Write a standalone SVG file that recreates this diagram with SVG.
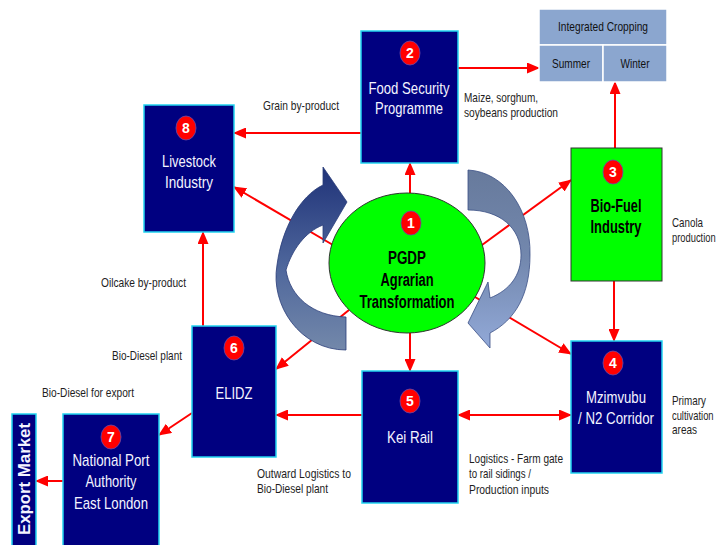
<svg xmlns="http://www.w3.org/2000/svg" width="720" height="545" viewBox="0 0 720 545">
<style>
.nav{fill:#000080;stroke:#22d3f0;stroke-width:1.5}
.grn{fill:#00ff00;stroke:#333;stroke-width:1}
.bdg{fill:#ff0000;stroke:#6a4aa8;stroke-width:0.8}
.bt{font-family:'Liberation Sans',Arial,sans-serif;font-weight:bold;font-size:14px;fill:#fff;text-anchor:middle}
.nt{font-family:'Liberation Sans Narrow','Liberation Sans',Arial,sans-serif;font-size:17px;fill:#f4f4ff;text-anchor:middle}
.gt{font-family:'Liberation Sans Narrow','Liberation Sans',Arial,sans-serif;font-size:17.5px;font-weight:bold;fill:#000;text-anchor:middle}
.lb{font-family:'Liberation Sans Narrow','Liberation Sans',Arial,sans-serif;font-size:13px;fill:#1e1e1e}
.ic{fill:#8ba6cf;stroke:#fff;stroke-width:1.5}
.it{font-family:'Liberation Sans Narrow','Liberation Sans',Arial,sans-serif;font-size:13px;fill:#111;text-anchor:middle}
.cn{stroke:#ff0000;stroke-width:2;fill:none;marker-end:url(#ah)}
</style>
<defs>
<marker id="ah" markerUnits="userSpaceOnUse" markerWidth="13" markerHeight="11" refX="12" refY="5.5" orient="auto-start-reverse">
<path d="M0,0 L13,5.5 L0,11 Z" fill="#ff0000"/>
</marker>
<linearGradient id="gl" x1="0" y1="0" x2="0" y2="1">
<stop offset="0" stop-color="#1f3278"/>
<stop offset="0.55" stop-color="#4f679c"/>
<stop offset="1" stop-color="#7388aa"/>
</linearGradient>
<linearGradient id="gr" x1="0" y1="0" x2="0" y2="1">
<stop offset="0" stop-color="#677a9c"/>
<stop offset="0.5" stop-color="#7388ae"/>
<stop offset="1" stop-color="#92a9d8"/>
</linearGradient>
</defs>
<rect width="720" height="545" fill="#fff"/>

<g id="connectors">
<path class="cn" d="M410,193 L410,163"/>
<path class="cn" d="M458,68 L539,68"/>
<path class="cn" d="M615,148 L615,82"/>
<path class="cn" d="M361,133 L234,133"/>
<path class="cn" d="M333,245 L234,187"/>
<path class="cn" d="M482,245 L571,180"/>
<path class="cn" d="M470,294 L571,354"/>
<path class="cn" d="M614,281 L614,341"/>
<path class="cn" d="M410,333 L410,371"/>
<path class="cn" d="M458,415 L571,415" style="marker-start:url(#ah)"/>
<path class="cn" d="M362,415 L276,415"/>
<path class="cn" d="M349,310 L276,369"/>
<path class="cn" d="M203,326 L203,232"/>
<path class="cn" d="M192,413 L159,435"/>
<path class="cn" d="M63,481 L36,481"/>
</g>

<g id="cycle-arrows">
<path d="M346,350 C300,350 270,305 277,265 C282,228 300,196 323,185 L323,167 L347,202 L323,243 L323,225 C305,232 292,250 286,270 C290,296 312,316 346,317 Z" fill="url(#gl)" stroke="#2a3c78" stroke-width="0.8"/>
<path d="M468,170 C505,172 531,210 530,255 C530,295 515,320 490,333 L490,348 L468,323 L488,282 L490,298 C510,290 521,275 521,255 C521,228 500,210 468,210 Z" fill="url(#gr)" stroke="#3a4f85" stroke-width="0.8"/>
</g>

<g id="integrated-cropping">
<rect class="ic" x="539" y="9" width="128" height="36"/>
<rect class="ic" x="539" y="45" width="64" height="37"/>
<rect class="ic" x="603" y="45" width="64" height="37"/>
<text class="it" x="603" y="31" textLength="90" lengthAdjust="spacingAndGlyphs">Integrated Cropping</text>
<text class="it" x="571" y="68" textLength="38" lengthAdjust="spacingAndGlyphs">Summer</text>
<text class="it" x="635" y="68" textLength="29" lengthAdjust="spacingAndGlyphs">Winter</text>
</g>

<g id="node1">
<ellipse cx="407" cy="263" rx="78" ry="70" fill="#00ff00" stroke="#333" stroke-width="1"/>
<ellipse class="bdg" cx="411" cy="223" rx="10" ry="12"/>
<text class="bt" x="411" y="228">1</text>
<text class="gt" x="407" y="264" textLength="38" lengthAdjust="spacingAndGlyphs">PGDP</text>
<text class="gt" x="407" y="286" textLength="53" lengthAdjust="spacingAndGlyphs">Agrarian</text>
<text class="gt" x="407" y="308" textLength="95" lengthAdjust="spacingAndGlyphs">Transformation</text>
</g>

<g id="node2">
<rect class="nav" x="361" y="31" width="97" height="132"/>
<ellipse class="bdg" cx="410" cy="53" rx="10" ry="12"/>
<text class="bt" x="410" y="58">2</text>
<text class="nt" x="409" y="94" textLength="81" lengthAdjust="spacingAndGlyphs">Food Security</text>
<text class="nt" x="409" y="114" textLength="68" lengthAdjust="spacingAndGlyphs">Programme</text>
</g>

<g id="node3">
<rect class="grn" x="571" y="148" width="91" height="133"/>
<ellipse class="bdg" cx="613" cy="172" rx="10" ry="12"/>
<text class="bt" x="613" y="177">3</text>
<text class="gt" x="616" y="212" textLength="51" lengthAdjust="spacingAndGlyphs">Bio-Fuel</text>
<text class="gt" x="616" y="233" textLength="51" lengthAdjust="spacingAndGlyphs">Industry</text>
</g>

<g id="node4">
<rect class="nav" x="571" y="341" width="91" height="132"/>
<ellipse class="bdg" cx="613" cy="363" rx="10" ry="12"/>
<text class="bt" x="613" y="368">4</text>
<text class="nt" x="616" y="403" textLength="60" lengthAdjust="spacingAndGlyphs">Mzimvubu</text>
<text class="nt" x="616" y="424" textLength="76" lengthAdjust="spacingAndGlyphs">/ N2 Corridor</text>
</g>

<g id="node5">
<rect class="nav" x="362" y="371" width="96" height="132"/>
<ellipse class="bdg" cx="410" cy="401" rx="10" ry="12"/>
<text class="bt" x="410" y="406">5</text>
<text class="nt" x="410" y="443" textLength="46" lengthAdjust="spacingAndGlyphs">Kei Rail</text>
</g>

<g id="node6">
<rect class="nav" x="192" y="326" width="84" height="131"/>
<ellipse class="bdg" cx="234" cy="348" rx="10" ry="12"/>
<text class="bt" x="234" y="353">6</text>
<text class="nt" x="234" y="399" textLength="37" lengthAdjust="spacingAndGlyphs">ELIDZ</text>
</g>

<g id="node7">
<rect class="nav" x="63" y="414" width="96" height="140"/>
<ellipse class="bdg" cx="111" cy="437" rx="10" ry="12"/>
<text class="bt" x="111" y="442">7</text>
<text class="nt" x="111" y="466" textLength="77" lengthAdjust="spacingAndGlyphs">National Port</text>
<text class="nt" x="111" y="487" textLength="51" lengthAdjust="spacingAndGlyphs">Authority</text>
<text class="nt" x="111" y="509" textLength="74" lengthAdjust="spacingAndGlyphs">East London</text>
</g>

<g id="node8">
<rect class="nav" x="144" y="105" width="90" height="127"/>
<ellipse class="bdg" cx="186" cy="128" rx="10" ry="12"/>
<text class="bt" x="186" y="133">8</text>
<text class="nt" x="189" y="167" textLength="54" lengthAdjust="spacingAndGlyphs">Livestock</text>
<text class="nt" x="189" y="188" textLength="48" lengthAdjust="spacingAndGlyphs">Industry</text>
</g>

<g id="export-market">
<rect class="nav" x="12" y="414" width="24" height="140"/>
<text transform="translate(30,479) rotate(-90)" font-family="'Liberation Sans',Arial,sans-serif" font-weight="bold" font-size="16px" fill="#f4f4ff" text-anchor="middle" textLength="112" lengthAdjust="spacingAndGlyphs">Export Market</text>
</g>

<g id="labels">
<text class="lb" x="263" y="110" textLength="76" lengthAdjust="spacingAndGlyphs">Grain by-product</text>
<text class="lb" x="464" y="102" textLength="74" lengthAdjust="spacingAndGlyphs">Maize, sorghum,</text>
<text class="lb" x="464" y="117" textLength="94" lengthAdjust="spacingAndGlyphs">soybeans production</text>
<text class="lb" x="672" y="227" textLength="31" lengthAdjust="spacingAndGlyphs">Canola</text>
<text class="lb" transform="translate(672,242) scale(0.72,1)">production</text>
<text class="lb" x="672" y="405" textLength="34" lengthAdjust="spacingAndGlyphs">Primary</text>
<text class="lb" transform="translate(672,420) scale(0.72,1)">cultivation</text>
<text class="lb" x="672" y="434" textLength="25" lengthAdjust="spacingAndGlyphs">areas</text>
<text class="lb" x="469" y="463" textLength="94" lengthAdjust="spacingAndGlyphs">Logistics - Farm gate</text>
<text class="lb" x="469" y="478" textLength="62" lengthAdjust="spacingAndGlyphs">to rail sidings /</text>
<text class="lb" x="469" y="494" textLength="80" lengthAdjust="spacingAndGlyphs">Production inputs</text>
<text class="lb" x="257" y="478" textLength="94" lengthAdjust="spacingAndGlyphs">Outward Logistics to</text>
<text class="lb" x="257" y="493" textLength="71" lengthAdjust="spacingAndGlyphs">Bio-Diesel plant</text>
<text class="lb" x="101" y="287" textLength="85" lengthAdjust="spacingAndGlyphs">Oilcake by-product</text>
<text class="lb" x="112" y="360" textLength="70" lengthAdjust="spacingAndGlyphs">Bio-Diesel plant</text>
<text class="lb" x="42" y="397" textLength="92" lengthAdjust="spacingAndGlyphs">Bio-Diesel for export</text>
</g>
</svg>
